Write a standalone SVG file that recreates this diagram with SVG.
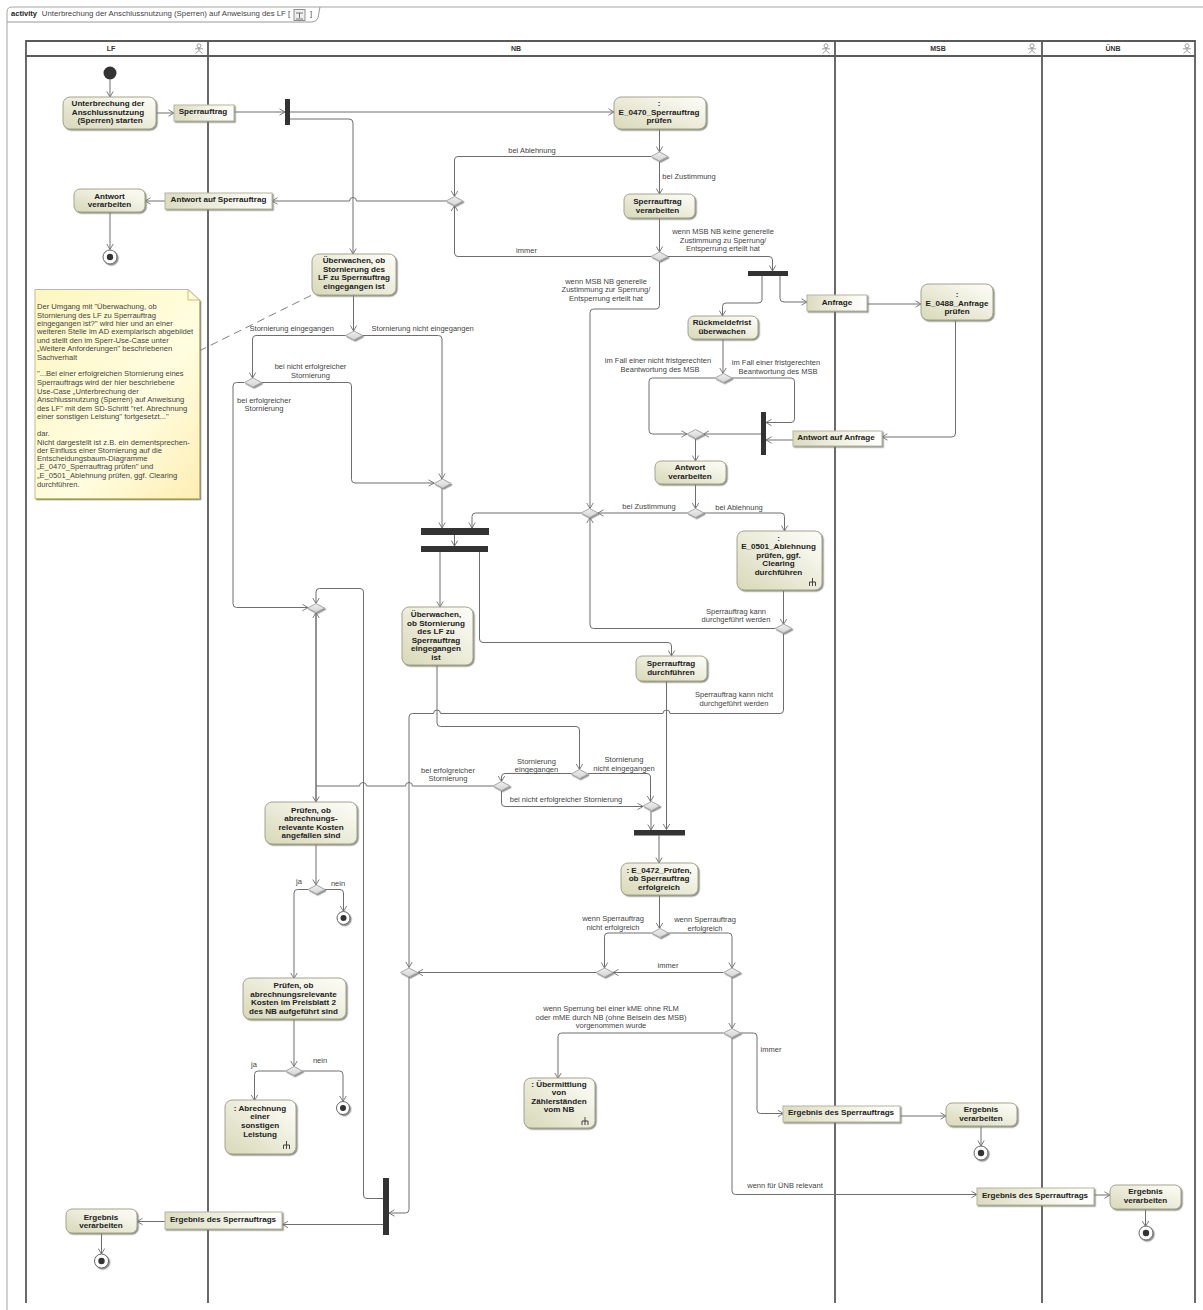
<svg xmlns="http://www.w3.org/2000/svg" width="1203" height="1310" viewBox="0 0 1203 1310">
<style>
text{font-family:"Liberation Sans",Arial,sans-serif;text-anchor:middle}
.b{font-size:8.1px;font-weight:bold;fill:#222}
.l{font-size:7.5px;fill:#444}
.h{font-size:7px;font-weight:bold;fill:#333}
.c{fill:none;stroke:#6e6e6e;stroke-width:1;marker-end:url(#arr)}
.p{fill:none;stroke:#6e6e6e;stroke-width:1}
.lane{fill:none;stroke:#5a5a5a;stroke-width:1.8}
.act{fill:url(#ga);stroke:#a3a388;stroke-width:1;filter:url(#sh)}
.pin{fill:url(#gp);stroke:#b5b59a;stroke-width:1;filter:url(#sh)}
.dec{fill:url(#gd);stroke:#a8a8a8;stroke-width:1;filter:url(#sh)}
.bar{fill:#333}
.fin{fill:#fff;stroke:#666;stroke-width:1;filter:url(#sh)}
.ico{fill:none;stroke:#333;stroke-width:.9}
.actor{fill:none;stroke:#888;stroke-width:.8}
.nt{font-size:7.6px;fill:#444;text-anchor:start}
</style>
<defs>
<marker id="arr" markerUnits="userSpaceOnUse" markerWidth="8" markerHeight="8" refX="7" refY="4" orient="auto"><path d="M1.5 .8L7 4L1.5 7.2" fill="none" stroke="#6e6e6e" stroke-width=".9"/></marker>
<linearGradient id="ga" x1="0" y1="1" x2="1" y2="0"><stop offset="0" stop-color="#d8d8b8"/><stop offset=".75" stop-color="#f5f5ea"/><stop offset="1" stop-color="#fdfdfa"/></linearGradient>
<linearGradient id="gp" x1="0" y1="0" x2="1" y2="0"><stop offset="0" stop-color="#dcdcc0"/><stop offset=".8" stop-color="#fafaf4"/><stop offset="1" stop-color="#fff"/></linearGradient>
<linearGradient id="gd" x1="0" y1="0" x2="0" y2="1"><stop offset="0" stop-color="#efefef"/><stop offset="1" stop-color="#d4d4d4"/></linearGradient>
<linearGradient id="gn" x1="0" y1="0" x2="1" y2="1"><stop offset="0" stop-color="#fdf6c0"/><stop offset=".6" stop-color="#fffde0"/><stop offset="1" stop-color="#fdeeb4"/></linearGradient>
<filter id="sh" x="-20%" y="-20%" width="150%" height="150%"><feDropShadow dx="1.3" dy="1.3" stdDeviation=".6" flood-color="#777" flood-opacity=".8"/></filter>
<g id="rake"><path class="ico" d="M0 -4V4M-3 4V0H3V4"/></g>
<g id="stick"><circle class="actor" cx="0" cy="-3.2" r="2"/><path class="actor" d="M-4 -.2H4M0 -1.2V1.5L-3.5 4.5M0 1.5L3.5 4.5"/></g>
</defs>
<rect width="1203" height="1310" fill="#fff"/>

<g id="frame">
<path d="M7 1310V12Q7 7 12 7H1203" fill="none" stroke="#a5a5a5" stroke-width="1"/>
<path d="M7 22H312Q316 22 318 18L320 7" fill="none" stroke="#999" stroke-width="1"/>
<text x="24" y="16" style="font-size:7.5px;font-weight:bold;fill:#222">activity</text>
<text x="166" y="16" style="font-size:7.8px;fill:#444">Unterbrechung der Anschlussnutzung (Sperren) auf Anweisung des LF [</text>
<rect x="294" y="9.5" width="11" height="11" fill="#eee" stroke="#777" stroke-width=".8"/>
<path d="M296 13H303M299.500 13V18M296 19H303" fill="none" stroke="#555" stroke-width=".8"/>
<text x="311" y="16" style="font-size:7.5px;fill:#444">]</text>
</g>

<g id="lanes">
<path class="lane" d="M26 1303V41H1195V1303M208 41V1303M835 41V1303M1042 41V1303M26 56H1195"/>
<text class="h" x="111" y="50.500">LF</text>
<text class="h" x="516" y="50.500">NB</text>
<text class="h" x="938" y="50.500">MSB</text>
<text class="h" x="1113" y="50.500">ÜNB</text>
<use href="#stick" x="199" y="49"/><use href="#stick" x="826" y="49"/><use href="#stick" x="1032" y="49"/><use href="#stick" x="1187" y="49"/>
</g>

<g id="connectors">
<path class="c" d="M110 79.500V97"/>
<path class="c" d="M156 113H174"/>
<path class="c" d="M234 112H285"/>
<path class="c" d="M290 112H614"/>
<path class="c" d="M290 119H349Q353 119 353 123V254"/>
<path class="c" d="M659.500 129V152"/>
<path class="c" d="M651 156.500H458Q454.500 156.500 454.500 160V196.500"/>
<path class="c" d="M659.500 161V194"/>
<path class="c" d="M659.500 218V252"/>
<path class="c" d="M651 256.500H458Q454.500 256.500 454.500 253V205.500"/>
<path class="c" d="M446 201H356.500A3.500 3.500 0 0 0 349.500 201H272"/>
<path class="c" d="M165 201H145"/>
<path class="c" d="M110 212V249.500"/>
<path class="c" d="M668 256.500H769Q772.500 256.500 772.500 260V271"/>
<path class="c" d="M659.500 261V305.500Q659.500 309 656 309H593.500Q590 309 590 312.500V508.500"/>
<path class="c" d="M762 276V300Q762 303 758 303H726Q722.500 303 722.500 306.500V316"/>
<path class="c" d="M780 276V298.500Q780 302 784 302H807"/>
<path class="c" d="M867 304H921"/>
<path class="c" d="M955.500 320V433Q955.500 437 952 437H882"/>
<path class="c" d="M793 440H766"/>
<path class="c" d="M723 339V373.500"/>
<path class="c" d="M715 378H652.500Q649 378 649 381.500V430.500Q649 434 652.500 434H687"/>
<path class="c" d="M731.500 378H791Q794.500 378 794.500 381.500V419Q794.500 422.500 791 422.500H766"/>
<path class="c" d="M761 434H703.500"/>
<path class="c" d="M695.500 438.500V461"/>
<path class="c" d="M695.500 484V508.500"/>
<path class="c" d="M687 513H598"/>
<path class="c" d="M704 513H781Q784.500 513 784.500 516.500V531"/>
<path class="c" d="M783.500 590V624.500"/>
<path class="c" d="M775 628.500H593.500Q590 628.500 590 625V517.500"/>
<path class="c" d="M581 513H475.500Q472 513 472 516.500V528"/>
<path class="c" d="M353.500 295V331"/>
<path class="c" d="M346 335.500H256Q252.500 335.500 252.500 339V378"/>
<path class="c" d="M362 335.500H438.500Q442 335.500 442 339V479"/>
<path class="c" d="M261 382.500H348Q351.500 382.500 351.500 386V479.500Q351.500 483 355 483H434"/>
<path class="c" d="M244 382.500H236.500Q233 382.500 233 386V603.500Q233 607.500 236.500 607.500H308"/>
<path class="c" d="M442 488V528"/>
<path class="c" d="M454.500 535V546"/>
<path class="c" d="M440 552V607"/>
<path class="c" d="M479.500 552V639Q479.500 642.500 483 642.500H668Q671.500 642.500 671.500 646V656"/>
<path class="c" d="M666.500 681V829.500"/>
<path class="c" d="M783.500 633V710Q783.500 713.500 780 713.500H670A3.500 3.500 0 0 0 663 713.500H440.500A3.500 3.500 0 0 0 433.500 713.500H412.500Q409 713.500 409 717V967.500"/>
<path class="c" d="M437 665V723Q437 726.500 440.500 726.500H576Q579.500 726.500 579.500 730V769.500"/>
<path class="c" d="M571.500 773.500H505Q501.500 773.500 501.500 777V781.500"/>
<path class="c" d="M588 773.500H647Q650.500 773.500 650.500 777V801.500"/>
<path class="c" d="M501.500 790.500V803Q501.500 806.500 505 806.500H643"/>
<path class="p" d="M493 786H412.500A3.500 3.500 0 0 0 405.500 786H366.500A3.500 3.500 0 0 0 359.500 786H316"/>
<path class="c" d="M316 612.500V802"/>
<path class="c" d="M316 802V612.500"/>
<path class="c" d="M383 1198.500H367Q363.500 1198.500 363.500 1195V592Q363.500 588.500 360 588.500H319.500Q316 588.500 316 592V603.500"/>
<path class="c" d="M651 810.500V830"/>
<path class="c" d="M659 835.500V863"/>
<path class="c" d="M659.500 895V928.500"/>
<path class="c" d="M651.500 933H608Q604.500 933 604.500 936.500V968"/>
<path class="c" d="M668.500 933H728.500Q732 933 732 936.500V968"/>
<path class="c" d="M723.500 972.500H613"/>
<path class="c" d="M596 972.500H417.500"/>
<path class="c" d="M732 977V1028.500"/>
<path class="c" d="M723.500 1033H561.500Q558 1033 558 1036.500V1078.500"/>
<path class="c" d="M740.500 1033H753.500Q757 1033 757 1036.500V1110Q757 1113.500 760.500 1113.500H783.500"/>
<path class="c" d="M732 1037.500V1191Q732 1194.500 735.500 1194.500H977"/>
<path class="c" d="M900 1116H946"/>
<path class="c" d="M981 1126V1146"/>
<path class="c" d="M1094 1195H1110"/>
<path class="c" d="M1145.500 1209V1226.500"/>
<path class="c" d="M316 844V885"/>
<path class="c" d="M308 889.500H297.500Q294 889.500 294 893V978.500"/>
<path class="c" d="M325 889.500H340Q343.500 889.500 343.500 893V911.500"/>
<path class="c" d="M294 1019.500V1066.500"/>
<path class="c" d="M285.500 1071H258Q254.500 1071 254.500 1074.500V1100.500"/>
<path class="c" d="M302.500 1071H339.500Q343 1071 343 1074.500V1101.500"/>
<path class="c" d="M409 977V1209.500Q409 1213 405.500 1213H389"/>
<path class="c" d="M383 1224.500H282.500"/>
<path class="c" d="M165 1221.500H137"/>
<path class="c" d="M101.500 1233V1254"/>
<path d="M199 351L314 294" fill="none" stroke="#808080" stroke-width="1" stroke-dasharray="8 5"/>
</g>

<g id="edge-labels">
<text class="l" x="532" y="152.500">bei Ablehnung</text>
<text class="l" x="689" y="179">bei Zustimmung</text>
<text class="l" x="526.500" y="252.500">immer</text>
<text class="l" x="723" y="234">wenn MSB NB keine generelle</text><text class="l" x="723" y="242.500">Zustimmung zu Sperrung/</text><text class="l" x="723" y="251">Entsperrung erteilt hat</text>
<text class="l" x="606" y="283.500">wenn MSB NB generelle</text><text class="l" x="606" y="292">Zustimmung zur Sperrung/</text><text class="l" x="606" y="300.500">Entsperrung erteilt hat</text>
<text class="l" x="658" y="363">im Fall einer nicht fristgerechten</text><text class="l" x="660" y="371.500">Beantwortung  des MSB</text>
<text class="l" x="776" y="365">im Fall einer fristgerechten</text><text class="l" x="778" y="373.500">Beantwortung  des MSB</text>
<text class="l" x="291.700" y="331">Stornierung eingegangen</text>
<text class="l" x="422.700" y="330.500">Stornierung nicht eingegangen</text>
<text class="l" x="310.500" y="369">bei nicht erfolgreicher</text><text class="l" x="310.500" y="377.500">Stornierung</text>
<text class="l" x="264" y="402.500">bei erfolgreicher</text><text class="l" x="264" y="411">Stornierung</text>
<text class="l" x="649" y="509">bei Zustimmung</text>
<text class="l" x="739" y="510">bei Ablehnung</text>
<text class="l" x="736" y="613.500">Sperrauftrag kann</text><text class="l" x="736" y="622">durchgeführt werden</text>
<text class="l" x="734" y="697">Sperrauftrag kann nicht</text><text class="l" x="734" y="705.500">durchgeführt werden</text>
<text class="l" x="536.500" y="763.500">Stornierung</text><text class="l" x="536.500" y="772">eingegangen</text>
<text class="l" x="624" y="762">Stornierung</text><text class="l" x="624" y="770.500">nicht eingegangen</text>
<text class="l" x="448" y="772.500">bei erfolgreicher</text><text class="l" x="448" y="781">Stornierung</text>
<text class="l" x="566" y="802">bei nicht erfolgreicher Stornierung</text>
<text class="l" x="299" y="883.500">ja</text><text class="l" x="338" y="885.500">nein</text>
<text class="l" x="254" y="1067">ja</text><text class="l" x="320" y="1062.500">nein</text>
<text class="l" x="613" y="921">wenn Sperrauftrag</text><text class="l" x="613" y="929.500">nicht erfolgreich</text>
<text class="l" x="705" y="922">wenn Sperrauftrag</text><text class="l" x="705" y="930.500">erfolgreich</text>
<text class="l" x="668" y="968">immer</text>
<text class="l" x="611" y="1010.500">wenn Sperrung bei einer kME ohne RLM</text><text class="l" x="611" y="1019.500">oder mME durch NB (ohne Beisein des MSB)</text><text class="l" x="611" y="1028">vorgenommen wurde</text>
<text class="l" x="771" y="1051.500">immer</text>
<text class="l" x="785" y="1188">wenn für ÜNB relevant</text>
</g>

<g id="start"><circle cx="110" cy="73" r="6.500" fill="#333"/></g>
<g id="a-start"><rect class="act" x="63" y="97" width="93" height="32" rx="7"/><text class="b" x="108" y="106">Unterbrechung der</text><text class="b" x="108" y="114.500">Anschlussnutzung</text><text class="b" x="110" y="123">(Sperren) starten</text></g>
<g id="p-sperrauftrag"><rect class="pin" x="174" y="105" width="60" height="16"/><text class="b" x="203" y="114">Sperrauftrag</text></g>
<g id="fork1"><rect class="bar" x="285" y="99" width="5" height="26"/></g>
<g id="a-e0470"><rect class="act" x="614" y="97" width="92" height="32" rx="7"/><text class="b" x="659" y="106">:</text><text class="b" x="659" y="114.500">E_0470_Sperrauftrag</text><text class="b" x="659" y="123">prüfen</text></g>
<g id="d1"><polygon class="dec" points="651,156.500 659.500,152 668,156.500 659.500,161"/></g>
<g id="d2"><polygon class="dec" points="446,201 454.500,196.500 463,201 454.500,205.500"/></g>
<g id="p-antwort"><rect class="pin" x="165" y="193" width="107" height="16"/><text class="b" x="218.500" y="202">Antwort auf Sperrauftrag</text></g>
<g id="a-antwort"><rect class="act" x="74" y="189" width="71" height="23" rx="6"/><text class="b" x="109.500" y="198.500">Antwort</text><text class="b" x="109.500" y="207">verarbeiten</text></g>
<g id="f-antwort"><circle class="fin" cx="110" cy="257" r="7"/><circle cx="110" cy="257" r="3.200" fill="#333"/></g>
<g id="a-verarb"><rect class="act" x="624" y="194" width="71" height="24" rx="6"/><text class="b" x="657.500" y="204">Sperrauftrag</text><text class="b" x="657.500" y="212.500">verarbeiten</text></g>
<g id="d3"><polygon class="dec" points="651,256.500 659.500,252 668,256.500 659.500,261"/></g>
<g id="fork2"><rect class="bar" x="748" y="271" width="40" height="5"/></g>
<g id="p-anfrage"><rect class="pin" x="807" y="295" width="60" height="16"/><text class="b" x="837" y="305">Anfrage</text></g>
<g id="a-e0488"><rect class="act" x="921" y="284" width="72" height="36" rx="7"/><text class="b" x="957" y="296.500">:</text><text class="b" x="957" y="305.500">E_0488_Anfrage</text><text class="b" x="957" y="314">prüfen</text></g>
<g id="a-rueck"><rect class="act" x="688" y="316" width="70" height="23" rx="6"/><text class="b" x="722" y="325">Rückmeldefrist</text><text class="b" x="722" y="333.500">überwachen</text></g>
<g id="d4"><polygon class="dec" points="715,378 723.500,373.500 732,378 723.500,382.500"/></g>
<g id="fork3"><rect class="bar" x="761" y="412" width="5" height="43"/></g>
<g id="p-antwort2"><rect class="pin" x="793" y="431" width="89" height="15"/><text class="b" x="836" y="440">Antwort auf Anfrage</text></g>
<g id="d5"><polygon class="dec" points="687,434 695.500,429.500 704,434 695.500,438.500"/></g>
<g id="a-antwort2"><rect class="act" x="655" y="461" width="71" height="23" rx="6"/><text class="b" x="690" y="470">Antwort</text><text class="b" x="690" y="478.500">verarbeiten</text></g>
<g id="d6"><polygon class="dec" points="687,513 695.500,508.500 704,513 695.500,517.500"/></g>
<g id="d7"><polygon class="dec" points="581,513 589.500,508.500 598,513 589.500,517.500"/></g>
<g id="a-e0501"><rect class="act" x="737" y="531" width="85" height="59" rx="7"/><text class="b" x="778.500" y="540.500">:</text><text class="b" x="778.500" y="549">E_0501_Ablehnung</text><text class="b" x="778.500" y="557.500">prüfen, ggf.</text><text class="b" x="778.500" y="566">Clearing</text><text class="b" x="778.500" y="574.500">durchführen</text><use href="#rake" x="812.500" y="582"/></g>
<g id="d8"><polygon class="dec" points="775,628.500 783.500,624 792,628.500 783.500,633"/></g>
<g id="a-ueber1"><rect class="act" x="312" y="254" width="84" height="41" rx="7"/><text class="b" x="354" y="263">Überwachen, ob</text><text class="b" x="354" y="271.500">Stornierung des</text><text class="b" x="354" y="280">LF zu Sperrauftrag</text><text class="b" x="354" y="288.500">eingegangen ist</text></g>
<g id="d10"><polygon class="dec" points="345.500,335.500 354,331 362.500,335.500 354,340"/></g>
<g id="d11"><polygon class="dec" points="244.500,382.500 253,378 261.500,382.500 253,387"/></g>
<g id="d9"><polygon class="dec" points="434,483.500 442.500,479 451,483.500 442.500,488"/></g>
<g id="d12"><polygon class="dec" points="307.500,608 316,603.500 324.500,608 316,612.500"/></g>
<g id="joinA"><rect class="bar" x="421" y="528" width="68" height="7"/></g>
<g id="forkB"><rect class="bar" x="421" y="546" width="67" height="6"/></g>
<g id="a-ueber2"><rect class="act" x="402" y="607" width="71" height="58" rx="7"/><text class="b" x="436" y="617">Überwachen,</text><text class="b" x="436" y="625.500">ob Stornierung</text><text class="b" x="436" y="634">des LF zu</text><text class="b" x="436" y="642.500">Sperrauftrag</text><text class="b" x="436" y="651">eingegangen</text><text class="b" x="436" y="659.500">ist</text></g>
<g id="a-durch"><rect class="act" x="636" y="656" width="71" height="25" rx="6"/><text class="b" x="671" y="666">Sperrauftrag</text><text class="b" x="671" y="674.500">durchführen</text></g>
<g id="d13"><polygon class="dec" points="493,786 501.500,781.500 510,786 501.500,790.500"/></g>
<g id="d15"><polygon class="dec" points="571,774 579.500,769.500 588,774 579.500,778.500"/></g>
<g id="d16"><polygon class="dec" points="643,806 651.500,801.500 660,806 651.500,810.500"/></g>
<g id="joinC"><rect class="bar" x="634" y="830" width="51" height="5.500"/></g>
<g id="a-e0472"><rect class="act" x="621" y="863" width="77" height="32" rx="7"/><text class="b" x="659" y="872.500">: E_0472_Prüfen,</text><text class="b" x="659" y="881">ob Sperrauftrag</text><text class="b" x="659" y="889.500">erfolgreich</text></g>
<g id="d17"><polygon class="dec" points="651.500,933 660,928.500 668.500,933 660,937.500"/></g>
<g id="d18"><polygon class="dec" points="596,972.500 604.500,968 613,972.500 604.500,977"/></g>
<g id="d19"><polygon class="dec" points="723.500,972.500 732,968 740.500,972.500 732,977"/></g>
<g id="d14"><polygon class="dec" points="400.500,972.500 409,968 417.500,972.500 409,977"/></g>
<g id="d20"><polygon class="dec" points="723.500,1033 732,1028.500 740.500,1033 732,1037.500"/></g>
<g id="a-uebermittlung"><rect class="act" x="524" y="1078" width="71" height="50" rx="7"/><text class="b" x="559" y="1086.500">: Übermittlung</text><text class="b" x="559" y="1095">von</text><text class="b" x="559" y="1103.500">Zählerständen</text><text class="b" x="559" y="1112">vom NB</text><use href="#rake" x="585" y="1121"/></g>
<g id="p-erg-msb"><rect class="pin" x="783" y="1106" width="117" height="16"/><text class="b" x="841" y="1115">Ergebnis des Sperrauftrags</text></g>
<g id="a-erg-msb"><rect class="act" x="946" y="1103" width="71" height="23" rx="6"/><text class="b" x="981" y="1112">Ergebnis</text><text class="b" x="981" y="1120.500">verarbeiten</text></g>
<g id="f-msb"><circle class="fin" cx="981" cy="1153" r="7"/><circle cx="981" cy="1153" r="3.200" fill="#333"/></g>
<g id="p-erg-unb"><rect class="pin" x="977" y="1188" width="117" height="17"/><text class="b" x="1035" y="1197.500">Ergebnis des Sperrauftrags</text></g>
<g id="a-erg-unb"><rect class="act" x="1110" y="1185" width="71" height="24" rx="6"/><text class="b" x="1145.500" y="1194">Ergebnis</text><text class="b" x="1145.500" y="1202.500">verarbeiten</text></g>
<g id="f-unb"><circle class="fin" cx="1146" cy="1233" r="7"/><circle cx="1146" cy="1233" r="3.200" fill="#333"/></g>
<g id="a-pruef1"><rect class="act" x="265" y="802" width="92" height="42" rx="7"/><text class="b" x="311" y="812.500">Prüfen, ob</text><text class="b" x="311" y="821">abrechnungs-</text><text class="b" x="311" y="829.500">relevante Kosten</text><text class="b" x="311" y="838">angefallen sind</text></g>
<g id="d21"><polygon class="dec" points="308,889.500 316.500,885 325,889.500 316.500,894"/></g>
<g id="f-pruef1"><circle class="fin" cx="343.500" cy="918" r="6.500"/><circle cx="343.500" cy="918" r="3" fill="#333"/></g>
<g id="a-pruef2"><rect class="act" x="243" y="978" width="103" height="41" rx="7"/><text class="b" x="293.500" y="988">Prüfen, ob</text><text class="b" x="293.500" y="996.500">abrechnungsrelevante</text><text class="b" x="293.500" y="1005">Kosten im Preisblatt 2</text><text class="b" x="293.500" y="1013.500">des NB aufgeführt sind</text></g>
<g id="d22"><polygon class="dec" points="285.500,1071 294,1066.500 302.500,1071 294,1075.500"/></g>
<g id="a-abrechnung"><rect class="act" x="225" y="1100" width="71" height="54" rx="7"/><text class="b" x="260" y="1110.500">: Abrechnung</text><text class="b" x="260" y="1119">einer</text><text class="b" x="260" y="1128">sonstigen</text><text class="b" x="260" y="1136.500">Leistung</text><use href="#rake" x="286.500" y="1145"/></g>
<g id="f-pruef2"><circle class="fin" cx="343" cy="1108" r="6.500"/><circle cx="343" cy="1108" r="3" fill="#333"/></g>
<g id="joinD"><rect class="bar" x="383" y="1178" width="6" height="57"/></g>
<g id="p-erg-lf"><rect class="pin" x="165" y="1212" width="117" height="17"/><text class="b" x="223" y="1222">Ergebnis des Sperrauftrags</text></g>
<g id="a-erg-lf"><rect class="act" x="66" y="1209" width="71" height="24" rx="6"/><text class="b" x="101" y="1219.500">Ergebnis</text><text class="b" x="101" y="1228">verarbeiten</text></g>
<g id="f-lf"><circle class="fin" cx="101.500" cy="1261" r="7"/><circle cx="101.500" cy="1261" r="3.200" fill="#333"/></g>

<g id="note">
<path d="M35 289.500H188L199.500 300V498.500H35Z" fill="url(#gn)" stroke="#c9bb7c" stroke-width="1" filter="url(#sh)"/>
<path d="M188 289.500V300H199.500" fill="none" stroke="#c9bb7c" stroke-width="1"/>
<text class="nt" x="37" y="309">Der Umgang mit "Überwachung, ob</text>
<text class="nt" x="37" y="317.500">Stornierung des LF zu Sperrauftrag</text>
<text class="nt" x="37" y="325.500">eingegangen ist?" wird hier und an einer</text>
<text class="nt" x="37" y="334">weiteren Stelle im AD exemplarisch abgebildet</text>
<text class="nt" x="37" y="342.500">und stellt den im Sperr-Use-Case unter</text>
<text class="nt" x="37" y="351">„Weitere Anforderungen" beschriebenen</text>
<text class="nt" x="37" y="359.500">Sachverhalt</text>
<text class="nt" x="37" y="376">"...Bei einer erfolgreichen Stornierung eines</text>
<text class="nt" x="37" y="385">Sperrauftrags wird der hier beschriebene</text>
<text class="nt" x="37" y="393.500">Use-Case „Unterbrechung der</text>
<text class="nt" x="37" y="402">Anschlussnutzung (Sperren) auf Anweisung</text>
<text class="nt" x="37" y="410.500">des LF" mit dem SD-Schritt "ref. Abrechnung</text>
<text class="nt" x="37" y="418.500">einer sonstigen Leistung" fortgesetzt..."</text>
<text class="nt" x="37" y="435.500">dar.</text>
<text class="nt" x="37" y="444.500">Nicht dargestellt ist z.B. ein dementsprechen-</text>
<text class="nt" x="37" y="452.500">der Einfluss einer Stornierung auf die</text>
<text class="nt" x="37" y="461">Entscheidungsbaum-Diagramme</text>
<text class="nt" x="37" y="469">„E_0470_Sperrauftrag prüfen" und</text>
<text class="nt" x="37" y="478">„E_0501_Ablehnung prüfen, ggf. Clearing</text>
<text class="nt" x="37" y="486.500">durchführen.</text>
</g>
</svg>
